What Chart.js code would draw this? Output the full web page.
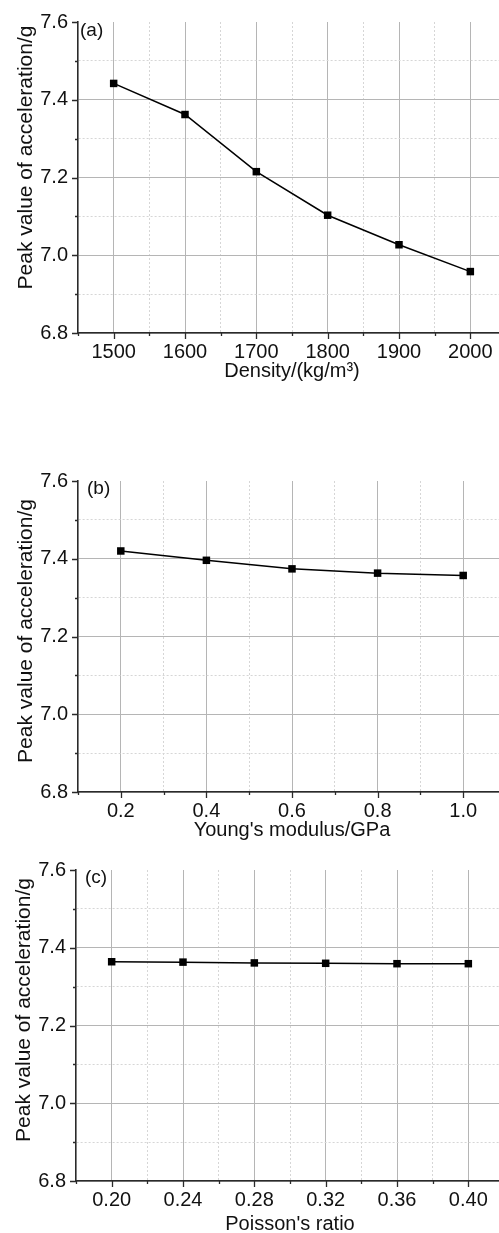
<!DOCTYPE html>
<html>
<head>
<meta charset="utf-8">
<script src="https://cdn.jsdelivr.net/npm/chart.js@4.4.1/dist/chart.umd.min.js"></script>
<style>
  html, body { margin: 0; padding: 0; background: #fff; width: 499px; height: 1233px; overflow: hidden; position: relative; }
  canvas { position: absolute; left: 0; }
</style>
</head>
<body>
<canvas id="chartDensity" width="520" height="390" style="top:0px"></canvas>
<canvas id="chartModulus" width="520" height="390" style="top:459px"></canvas>
<canvas id="chartPoisson" width="520" height="390" style="top:848px"></canvas>
<script>
// Peak acceleration versus material parameters
const densityValues = [1500, 1600, 1700, 1800, 1900, 2000];
const densityPeak   = [7.442, 7.362, 7.215, 7.103, 7.027, 6.958];

const modulusValues = [0.2, 0.4, 0.6, 0.8, 1.0];
const modulusPeak   = [7.420, 7.396, 7.374, 7.363, 7.357];

const poissonValues = [0.20, 0.24, 0.28, 0.32, 0.36, 0.40];
const poissonPeak   = [7.364, 7.363, 7.361, 7.360, 7.359, 7.359];

// labelled (major) tick values
const peakTicks    = [6.8, 7.0, 7.2, 7.4, 7.6];
const densityTicks = [1500, 1600, 1700, 1800, 1900, 2000];
const modulusTicks = [0.2, 0.4, 0.6, 0.8, 1.0];
const poissonTicks = [0.20, 0.24, 0.28, 0.32, 0.36, 0.40];

const peakTitle = 'Peak value of acceleration/g';

Chart.defaults.font.family = '"Liberation Sans", Arial, Helvetica, sans-serif';
Chart.defaults.color = '#111';

const MAJOR_GRID = '#b5b5b5';
const MINOR_GRID = '#d6d6d6';
const AXIS_COLOR = '#2a2a2a';

function isMajor(v, list) {
  return list.some(m => Math.abs(m - v) < 1e-7);
}

// short/long tick marks drawn outward from the axes
const tickMarks = {
  id: 'tickMarks',
  afterDraw(chart) {
    const ctx = chart.ctx;
    const area = chart.chartArea;
    const xs = chart.scales.x, ys = chart.scales.y;
    ctx.save();
    ctx.strokeStyle = AXIS_COLOR;
    ctx.lineWidth = 1.3;
    ctx.beginPath();
    xs.ticks.forEach(t => {
      const px = Math.round(xs.getPixelForValue(t.value)) + 0.5;
      if (px > chart.width) return;
      const len = t.label !== '' ? 6 : 3;
      ctx.moveTo(px, area.bottom);
      ctx.lineTo(px, area.bottom + len);
    });
    ys.ticks.forEach(t => {
      const py = Math.round(ys.getPixelForValue(t.value)) + 0.5;
      const len = t.label !== '' ? 6 : 3;
      ctx.moveTo(area.left, py);
      ctx.lineTo(area.left - len, py);
    });
    ctx.stroke();
    ctx.restore();
  }
};

// panel letter in the plot corner and the vertical axis caption
const panelText = {
  id: 'panelText',
  afterDraw(chart, args, opts) {
    if (!opts) return;
    const ctx = chart.ctx;
    ctx.save();
    ctx.fillStyle = '#111';
    if (opts.tag) {
      ctx.font = '19px "Liberation Sans", Arial, sans-serif';
      ctx.textAlign = 'left';
      ctx.textBaseline = 'middle';
      ctx.fillText(opts.tag.text, opts.tag.x, opts.tag.y);
    }
    if (opts.yTitle) {
      ctx.font = '21px "Liberation Sans", Arial, sans-serif';
      ctx.translate(opts.yTitle.x, opts.yTitle.y);
      ctx.rotate(-Math.PI / 2);
      ctx.textAlign = 'center';
      ctx.textBaseline = 'middle';
      ctx.fillText(opts.yTitle.text, 0, 0);
    }
    ctx.restore();
  }
};

function makeChart(id, cfg) {
  const xs = cfg.xValues, ys = cfg.yValues;
  const points = xs.map((x, i) => ({ x: x, y: ys[i] }));
  return new Chart(document.getElementById(id), {
    type: 'line',
    data: {
      datasets: [{
        data: points,
        borderColor: '#000',
        borderWidth: 1.5,
        backgroundColor: '#000',
        pointStyle: 'rect',
        pointRadius: 5.3,
        pointBorderWidth: 0,
        pointBackgroundColor: '#000',
        tension: 0,
        clip: false
      }]
    },
    options: {
      responsive: false,
      animation: false,
      devicePixelRatio: 1,
      layout: { padding: { top: 20, right: cfg.padRight, left: 0, bottom: 0 } },
      plugins: {
        legend: { display: false },
        tooltip: { enabled: false },
        panelText: { tag: cfg.tag, yTitle: cfg.yTitle }
      },
      scales: {
        x: {
          type: 'linear',
          min: cfg.xMin,
          max: cfg.xMax,
          afterFit(s) { s.height = 57; },
          ticks: {
            stepSize: cfg.xStep,
            autoSkip: false,
            maxRotation: 0,
            padding: 7,
            font: { size: 20 },
            color: '#111',
            callback: v => isMajor(v, cfg.xTicks) ? cfg.xFormat(v) : ''
          },
          grid: {
            drawTicks: false,
            lineWidth: 1,
            color: c => {
              if (!c.tick) return MAJOR_GRID;
              if (Math.abs(c.tick.value - cfg.xMin) < 1e-7) return 'rgba(0,0,0,0)';
              return isMajor(c.tick.value, cfg.xTicks) ? MAJOR_GRID : MINOR_GRID;
            }
          },
          border: {
            display: true,
            color: AXIS_COLOR,
            width: 1.6,
            dash: c => (c.tick && !isMajor(c.tick.value, cfg.xTicks)) ? [2, 2] : []
          },
          title: {
            display: true,
            text: cfg.xTitle,
            font: { size: 20 },
            color: '#111',
            padding: { top: 0, bottom: cfg.xTitlePad }
          }
        },
        y: {
          type: 'linear',
          min: 6.8,
          max: 7.6,
          afterFit(s) { s.width = cfg.yAxisWidth; },
          ticks: {
            stepSize: 0.1,
            autoSkip: false,
            padding: 10,
            font: { size: 20 },
            color: '#111',
            callback: v => isMajor(v, peakTicks) ? v.toFixed(1) : ''
          },
          grid: {
            drawTicks: false,
            lineWidth: 1,
            color: c => {
              if (!c.tick) return MAJOR_GRID;
              if (Math.abs(c.tick.value - 7.6) < 1e-7) return 'rgba(0,0,0,0)';
              return isMajor(c.tick.value, peakTicks) ? MAJOR_GRID : MINOR_GRID;
            }
          },
          border: {
            display: true,
            color: AXIS_COLOR,
            width: 1.6,
            dash: c => (c.tick && !isMajor(c.tick.value, peakTicks)) ? [2, 2] : []
          },
          title: { display: false }
        }
      }
    },
    plugins: [tickMarks, panelText]
  });
}

makeChart('chartDensity', {
  xValues: densityValues, yValues: densityPeak,
  xMin: 1450, xMax: 2050, xStep: 50, xTicks: densityTicks,
  xFormat: v => String(Math.round(v)),
  xTitle: 'Density/(kg/m\u00B3)', xTitlePad: 7,
  yAxisWidth: 78, padRight: 14,
  tag: { text: '(a)', x: 80, y: 31 },
  yTitle: { text: peakTitle, x: 26, y: 157.5 }
});

makeChart('chartModulus', {
  xValues: modulusValues, yValues: modulusPeak,
  xMin: 0.1, xMax: 1.1, xStep: 0.1, xTicks: modulusTicks,
  xFormat: v => v.toFixed(1),
  xTitle: "Young's modulus/GPa", xTitlePad: 7,
  yAxisWidth: 78, padRight: 14,
  tag: { text: '(b)', x: 87, y: 30 },
  yTitle: { text: peakTitle, x: 26, y: 172 }
});

makeChart('chartPoisson', {
  xValues: poissonValues, yValues: poissonPeak,
  xMin: 0.18, xMax: 0.42, xStep: 0.02, xTicks: poissonTicks,
  xFormat: v => v.toFixed(2),
  xTitle: "Poisson's ratio", xTitlePad: 2,
  yAxisWidth: 76, padRight: 16,
  tag: { text: '(c)', x: 85, y: 30 },
  yTitle: { text: peakTitle, x: 24, y: 162 }
});
</script>
</body>
</html>
